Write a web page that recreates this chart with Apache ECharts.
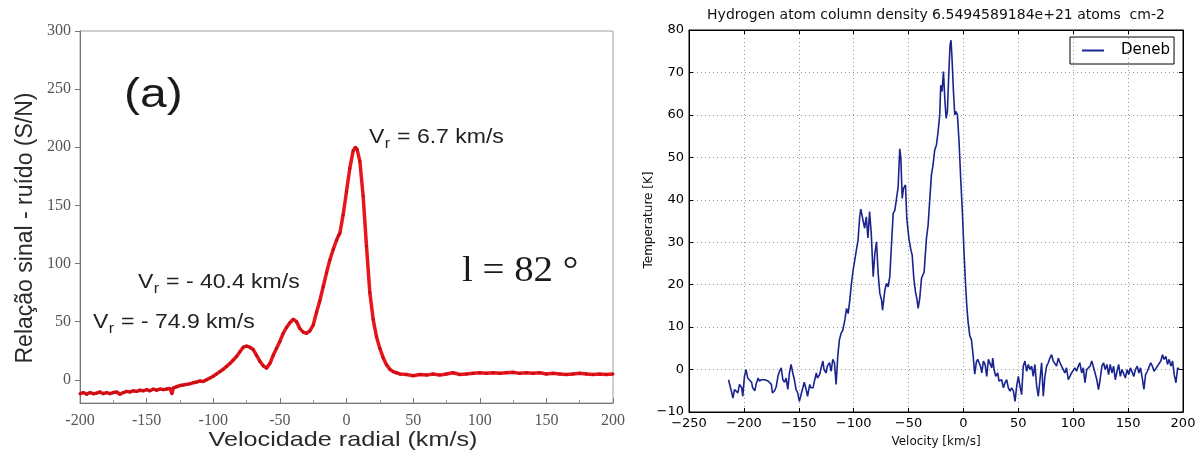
<!DOCTYPE html>
<html><head><meta charset="utf-8">
<script src="https://cdn.jsdelivr.net/npm/echarts@6/dist/echarts.min.js"></script>
<style>html,body{margin:0;padding:0;background:#fff}#c{width:1203px;height:457px}</style>
</head><body><div id="c"></div>
<script>
// ---------- DATA ----------
// Left panel: [radial velocity km/s, S/N]
const leftSpectrum = [
  [-200,-12],[-197.5,-11],[-195,-12.5],[-192.5,-11],[-190,-12],[-187.5,-11.5],[-185,-10.5],[-182.5,-12],
  [-180,-11],[-177.5,-12],[-175,-11],[-172.5,-10.5],[-170,-12.5],[-167.5,-11],[-165,-10],[-162.5,-10.5],
  [-160,-9.5],[-157.5,-10],[-155,-9],[-152.5,-9.5],[-150,-8.5],[-147.5,-9.5],[-145,-8],[-142.5,-9],
  [-140,-8],[-137.5,-8.5],[-135,-8],[-132.5,-7.5],[-131,-12],[-130,-7],[-127.5,-6],[-125,-5],
  [-122.5,-4.5],[-120,-4],[-117.5,-3.5],[-115,-2.5],[-112.5,-2],[-110,-1],[-107.5,-1.5],[-105,0],
  [-102.5,1.5],[-100,3],[-97.5,5],[-95,7],[-92.5,9],[-90,11.5],[-87.5,14],[-85,17],[-82.5,20],
  [-80,24],[-77.5,28],[-75,29],[-72.5,28],[-70,26],[-67.5,21],[-65,16],[-62.5,12],[-60,10],
  [-57.5,14],[-55,21],[-52.5,27],[-50,33],[-47.5,40],[-45,45],[-42.5,49],[-40,52],[-37.5,50],
  [-35,44],[-32.5,41],[-30,40],[-27.5,42],[-25,47],[-22.5,58],[-20,68],[-17.5,80],[-15,92],
  [-12.5,103],[-10,112],[-7.5,120],[-6,124],[-5,126],[-2.5,142],[0,162],[2.5,182],[5,197],
  [6.7,200],[8,198],[10,188],[12.5,158],[15,115],[17.5,75],[20,52],[22.5,37],[25,27],[27.5,19],
  [30,13],[32.5,9],[35,7],[37.5,6],[40,5],[45,4.5],[50,3.5],[55,4.5],[60,4],[65,5],[70,4],
  [75,5],[80,6],[85,4.5],[90,5],[95,5.5],[100,6],[105,5.5],[110,6],[115,5.5],[120,6],[125,6.5],
  [130,5.5],[135,6],[140,5.5],[145,6],[150,5],[155,5.5],[160,5],[165,4.5],[170,5],[175,5.5],
  [180,5],[185,4.5],[190,5],[195,4.5],[200,5]
];
// Right panel: [velocity km/s, temperature K] for Deneb
const denebSpectrum = [
  [-214,-2.4],[-212.5,-4],[-211,-5.5],[-210,-6.7],[-208.5,-4.7],[-207,-4.3],[-205.5,-5.5],[-204,-3.5],
  [-202,-4.3],[-201,-6.3],[-199.5,-1.6],[-198,0],[-196.5,-2],[-195,-1.6],[-193,-3],[-192,-4.3],
  [-190,-5],[-189,-3.5],[-187,-2],[-186,-2.7],[-184,-2.4],[-182.5,-2.2],[-181,-2.4],[-179.5,-2.6],
  [-178,-2.7],[-176.5,-2.4],[-175,-3.5],[-174,-5.5],[-172,-5],[-170.5,-4],[-169,-1.6],[-167.5,-0.4],
  [-166,0.4],[-164.5,-2.4],[-163,-3],[-161.5,-2],[-160,-4.7],[-158.5,-0.8],[-157,1.2],[-155.5,-0.8],
  [-154,-2.4],[-152.5,-4.7],[-151,-5.5],[-149.5,-7.5],[-148,-6],[-146,-4],[-145,-3],[-143,-5],
  [-142,-6.3],[-140,-3.5],[-139,-4.3],[-137,-4.3],[-136,-3],[-134,-0.8],[-133,-2],[-131,-1.2],
  [-130,0],[-128,2],[-127,0],[-125,-0.8],[-124,0.8],[-122,1.6],[-120.5,-0.4],[-119,2.4],
  [-117.5,1.6],[-116,-3.5],[-114.5,3.1],[-113,7],[-111.5,8.5],[-110,9.2],[-108,11.7],[-106.5,14.4],
  [-105,13.2],[-103.5,16.4],[-102,20.3],[-100.5,23.4],[-99,25.8],[-97.5,28.2],[-96,30.5],[-94.5,36],
  [-93.5,37.8],[-91.5,35.2],[-90,33.3],[-88.5,36],[-87,31],[-85.5,37.2],[-84,32.2],[-82.2,21.9],
  [-80.7,27.4],[-79.2,30.1],[-77.7,22.7],[-76.2,18],[-74.6,16.4],[-73.7,14],[-71.6,18.7],[-70.1,20.3],
  [-68.6,19.5],[-67.1,21.9],[-65.5,29.7],[-64,36.8],[-62.5,37.5],[-61,40.2],[-59.5,43],[-58,52],
  [-57,49.8],[-55.8,40.3],[-54.6,42.7],[-52.8,43.5],[-51.6,35.6],[-49.7,30.9],[-47.9,28.2],[-46.7,27],
  [-45.2,21.5],[-43.7,18.3],[-42.5,16.8],[-41.3,14.4],[-39.8,16.8],[-38.2,21.5],[-35.8,23],[-33.7,30.9],
  [-32.2,34],[-30.7,34],[-29.2,45.8],[-27.7,48.2],[-26.2,51.7],[-24.6,52.9],[-23.1,56],[-21.6,60],
  [-20.7,67],[-19.5,65.5],[-18.2,70.2],[-17,63.9],[-15.8,59.2],[-14.6,60.8],[-13.4,69.4],[-12.2,76.5],
  [-11.3,77.6],[-10.4,73.3],[-9.1,65.5],[-7.9,60],[-6.7,60.8],[-5.5,60],[-4,53.7],[-2.5,45],
  [-1,37.2],[0.5,27.8],[1.8,20.7],[3,15.2],[4.2,11.3],[5.7,8.1],[7.3,7],[8.8,3.4],[10.3,-1.1],
  [11.8,1.8],[13,2.4],[14.2,1.6],[15.5,0.8],[16.7,-0.8],[18.2,2],[19.7,1.2],[21.2,-1.6],[22.7,2.4],
  [24.2,2.7],[25.8,0.4],[26.7,2.7],[27.9,0],[29.4,-1.6],[31.2,-0.8],[32.4,-2.7],[33.6,-3.1],
  [34.8,-2.4],[36.4,-4.3],[37.9,-3.1],[39.4,-2.4],[40.9,-4.3],[42.4,-5.1],[43.9,-4.3],[45.5,-5.1],
  [47,-7.5],[48.5,-3.9],[50,-1.6],[51.5,-3.9],[53,-5.9],[54.5,0.8],[56,2],[57.6,-0.4],[59.1,1.2],
  [60.6,0],[62.1,0.8],[63.6,-1.6],[65.1,1.2],[66.7,-3.9],[68.2,-6.3],[69.7,-2.4],[71.2,1.6],
  [72.7,-6.3],[74.2,-1.6],[75.8,0.8],[77.3,1.6],[78.8,2.7],[80.3,3.5],[81.8,2],[83.3,2.4],[84.8,0.8],
  [86.4,2.7],[87.9,1.6],[89.4,0.8],[90.9,1.2],[92.4,-0.8],[93.9,0.4],[95.5,-2.4],[97,-1.6],[98.5,-0.8],
  [100,-1.2],[101.5,0.4],[103,-0.4],[104.6,0.8],[106,1.6],[107.7,-0.8],[109.2,0.4],[110.7,-3.1],
  [112.3,0],[113.8,0.4],[115.3,0.8],[116.9,2],[118.4,2.4],[119.9,-0.8],[121.5,-2.4],[123,-4.7],
  [124.5,-2.4],[126.1,0.8],[127.6,1.6],[129.1,0],[130.7,1.2],[132.2,-1.2],[133.7,1.2],[135.3,-0.8],
  [136.8,0.8],[138.3,-2.4],[139.9,-0.4],[141.4,1.2],[142.9,-1.6],[144.5,0],[146,0.4],[147.5,-2],
  [149.1,0],[150.6,-1.2],[152.1,0.4],[153.7,0],[155.2,-1.6],[156.7,0],[158.3,0.8],[159.8,-0.8],
  [161.3,0.4],[162.9,-2],[164.4,-4.7],[165.9,-1.2],[167.5,-0.4],[169,-0.8],[170.6,1.6],[172.1,0.8],
  [173.6,-0.4],[175.2,0],[176.7,0.8],[178.2,0.4],[179.8,2],[181.3,3.5],[182.8,2.4],[184.4,3.1],
  [185.9,1.2],[187.4,2.4],[189,0.8],[190.5,2],[192,-1.2],[193.6,-3.1],[195.1,0.4],[196.6,0]
];
const leftYTickValues = [0, 50, 100, 150, 200, 250, 300];
const peakLabels = [
  { rest: ' = 6.7 km/s' },
  { rest: ' = - 40.4 km/s' },
  { rest: ' = - 74.9 km/s' }
];
const texts = {
  panelTag: '(a)',
  longitude: 'l = 82 °',
  leftX: 'Velocidade radial (km/s)',
  leftY: 'Relação sinal - ruído (S/N)',
  rightTitle: 'Hydrogen atom column density 6.5494589184e+21 atoms  cm-2',
  rightX: 'Velocity [km/s]',
  rightY: 'Temperature [K]',
  seriesName: 'Deneb'
};

// ---------- LAYOUT / STYLE ----------
const SANS = '"Liberation Sans", Arial, sans-serif';
const SERIF = '"Liberation Serif", "Times New Roman", serif';
const DJ = '"DejaVu Sans", sans-serif';
const mctx = document.createElement('canvas').getContext('2d');
function tw(t, size, fam) { mctx.font = size + 'px ' + fam; return mctx.measureText(t).width; }

function txt(x, y, text, size, fam, opts) {
  opts = opts || {};
  return {
    type: 'text', x: x, y: y, rotation: opts.rotation || 0, scaleX: opts.sx || 1,
    style: {
      text: text, fontSize: size, fontFamily: fam, fontWeight: opts.weight || 'normal',
      fill: opts.fill || '#222',
      align: opts.align || 'left', textAlign: opts.align || 'left',
      verticalAlign: 'middle', textVerticalAlign: 'middle'
    }
  };
}
function subLabel(x, y, rest, size, sx) {
  const wV = tw('V', size, SANS) * sx;
  const subSize = Math.round(size * 0.72);
  const wr = tw('r', subSize, SANS) * sx;
  return [
    txt(x, y, 'V', size, SANS, { sx: sx }),
    txt(x + wV + 0.5, y + 7, 'r', subSize, SANS, { sx: sx }),
    txt(x + wV + wr + 1, y, rest, size, SANS, { sx: sx })
  ];
}

const SX = 1.15;
const graphics = [].concat(
  [txt(124, 96, texts.panelTag, 40, SANS, { sx: 1.2, fill: '#1a1a1a' })],
  subLabel(369, 137, peakLabels[0].rest, 20, SX),
  subLabel(138, 282, peakLabels[1].rest, 20, SX),
  subLabel(93, 322, peakLabels[2].rest, 20, SX),
  [
    txt(462, 272, texts.longitude, 36, SERIF, { sx: 1.08, fill: '#1a1a1a' }),
    txt(343, 440, texts.leftX, 21, SANS, { sx: 1.2, align: 'center', fill: '#2a2a2a' }),
    txt(26, 228, texts.leftY, 23, SANS, { rotation: Math.PI / 2, align: 'center', fill: '#2a2a2a' }),
    txt(936, 15, texts.rightTitle, 14, DJ, { align: 'center', fill: '#111' }),
    txt(936, 442, texts.rightX, 12, DJ, { align: 'center', fill: '#111' }),
    txt(649, 220, texts.rightY, 12, DJ, { rotation: Math.PI / 2, align: 'center', fill: '#111' })
  ]
);

const minus = v => String(v).replace('-', '\u2212');
const blue = '#1a248e';
const red = '#e8161c';

const option = {
  animation: false,
  backgroundColor: '#fff',
  grid: [
    { left: 80, top: 31, width: 533, height: 372, show: true, borderColor: '#a0a0a0', borderWidth: 1, backgroundColor: 'transparent' },
    { left: 689, top: 30, width: 494, height: 382, show: true, borderColor: '#000', borderWidth: 1, backgroundColor: 'transparent' }
  ],
  legend: {
    data: [{ name: texts.seriesName, icon: 'rect' }],
    left: 1070, top: 37, orient: 'horizontal',
    borderColor: '#000', borderWidth: 1, borderRadius: 0,
    padding: [6, 4, 6, 12], itemWidth: 22, itemHeight: 2, itemGap: 0,
    textStyle: { fontFamily: DJ, fontSize: 15, color: '#000', padding: [0, 0, 0, 12] },
    selectedMode: false
  },
  xAxis: [
    {
      gridIndex: 0, type: 'value', min: -200, max: 200, interval: 50,
      axisLine: { show: true, onZero: false, lineStyle: { color: '#777', width: 1 } },
      axisTick: { show: true, inside: true, length: 5, lineStyle: { color: '#777' } },
      minorTick: { show: true, splitNumber: 2, length: 3, lineStyle: { color: '#999' } },
      axisLabel: { margin: 10, fontFamily: SERIF, fontSize: 16, color: '#555' },
      splitLine: { show: false }
    },
    {
      gridIndex: 1, type: 'value', min: -250, max: 200, interval: 50,
      axisLine: { show: true, onZero: false, lineStyle: { color: '#000', width: 1 } },
      axisTick: { show: true, inside: true, length: 4, lineStyle: { color: '#000' } },
      axisLabel: { margin: 5, fontFamily: DJ, fontSize: 13, color: '#000', formatter: minus },
      splitLine: { show: true, lineStyle: { color: '#999', width: 1, type: [1, 3] } }
    },
    {
      gridIndex: 1, type: 'value', min: -250, max: 200, interval: 50, position: 'top',
      axisLine: { show: true, onZero: false, lineStyle: { color: '#000', width: 1 } },
      axisTick: { show: true, inside: true, length: 4, lineStyle: { color: '#000' } },
      axisLabel: { show: false }, splitLine: { show: false }
    }
  ],
  yAxis: [
    {
      gridIndex: 0, type: 'value', min: -20, max: 300,
      axisLine: { show: true, onZero: false, lineStyle: { color: '#777', width: 1 } },
      axisTick: { show: true, inside: false, length: 5, customValues: leftYTickValues, lineStyle: { color: '#777' } },
      axisLabel: { margin: 9, fontFamily: SERIF, fontSize: 16, color: '#555', customValues: leftYTickValues },
      splitLine: { show: false }
    },
    {
      gridIndex: 1, type: 'value', min: -10, max: 80, interval: 10,
      axisLine: { show: true, onZero: false, lineStyle: { color: '#000', width: 1 } },
      axisTick: { show: true, inside: true, length: 4, lineStyle: { color: '#000' } },
      axisLabel: { margin: 5, fontFamily: DJ, fontSize: 13, color: '#000', formatter: minus },
      splitLine: { show: true, lineStyle: { color: '#999', width: 1, type: [1, 3] } }
    },
    {
      gridIndex: 1, type: 'value', min: -10, max: 80, interval: 10, position: 'right',
      axisLine: { show: true, onZero: false, lineStyle: { color: '#000', width: 1 } },
      axisTick: { show: true, inside: true, length: 4, lineStyle: { color: '#000' } },
      axisLabel: { show: false }, splitLine: { show: false }
    }
  ],
  series: [
    {
      name: 'S/N', type: 'line', xAxisIndex: 0, yAxisIndex: 0, data: leftSpectrum,
      showSymbol: true, symbol: 'circle', symbolSize: 3,
      itemStyle: { color: '#c40c12' },
      lineStyle: { color: red, width: 3.5 }, z: 3
    },
    {
      name: texts.seriesName, type: 'line', xAxisIndex: 1, yAxisIndex: 1, data: denebSpectrum,
      showSymbol: false, itemStyle: { color: blue },
      lineStyle: { color: blue, width: 1.6 }, z: 3
    }
  ],
  graphic: { elements: graphics }
};

const chart = echarts.init(document.getElementById('c'), null, { renderer: 'canvas' });
chart.setOption(option);
</script>
</body></html>
